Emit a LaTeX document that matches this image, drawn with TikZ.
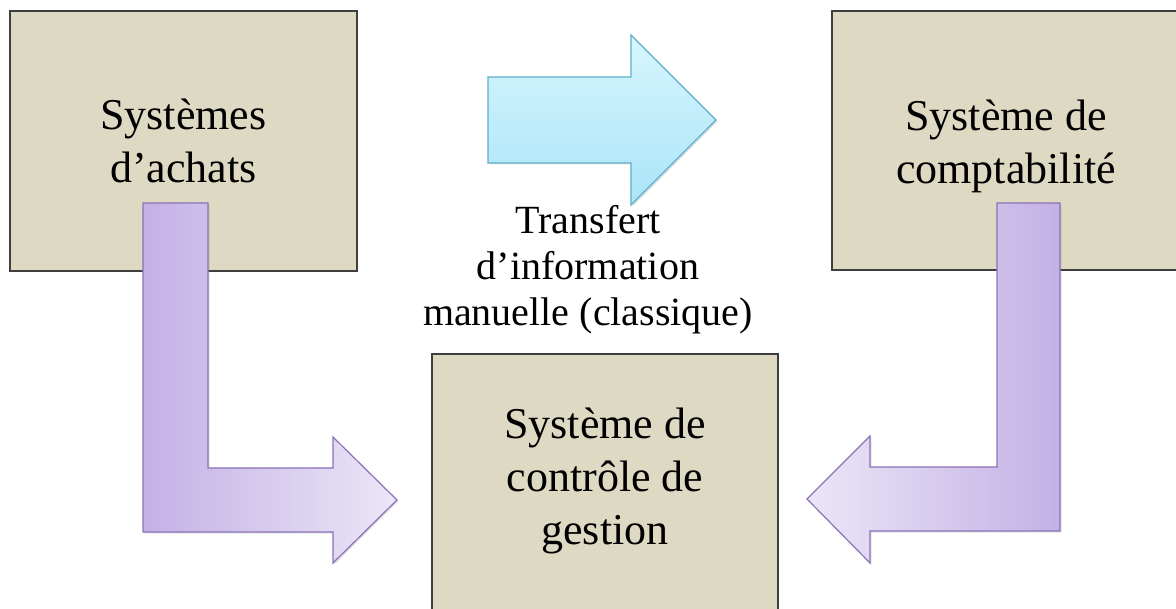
\documentclass[tikz,border=0pt]{standalone}
\usepackage{fontspec}
\setmainfont{Liberation Serif}
\usetikzlibrary{shadows}

\definecolor{panelfill}{HTML}{DDD9C3}
\definecolor{paneledge}{HTML}{3F3F3F}
\definecolor{lilacdark}{HTML}{C3B1E5}
\definecolor{lilaclight}{HTML}{EBE6F7}
\definecolor{lilacedge}{HTML}{8C72B8}
\definecolor{skytop}{HTML}{D8F5FE}
\definecolor{skybottom}{HTML}{A9E5F8}
\definecolor{skyedge}{HTML}{5DAEC9}

\begin{document}
\begin{tikzpicture}[x=1pt,y=-1pt,
  panel/.style={draw=paneledge, line width=1.6pt, fill=panelfill, inner sep=0pt},
  paneltext/.style={align=center, inner sep=0pt, font=\fontsize{44}{53}\selectfont},
  notetext/.style={align=center, inner sep=0pt, font=\fontsize{40}{46}\selectfont},
  softshadow/.style={drop shadow={opacity=0.22, shadow xshift=1.5pt, shadow yshift=-1.5pt}},
  lilac/.style={draw=lilacedge, line width=1.2pt, line join=miter, softshadow},
  sky/.style={draw=skyedge, line width=1.2pt, line join=miter, softshadow,
              top color=skytop, bottom color=skybottom}
]
\useasboundingbox (0,0) rectangle (1176,609);
\fill[white] (0,0) rectangle (1176,609);
\clip (0,0) rectangle (1176,609);

% the three information systems
\node[panel, minimum width=347pt, minimum height=260pt] (achats) at (183.5,141) {};
\node[paneltext] (achatsT) at (183.5,141) {Systèmes\\d’achats};

\node[panel, minimum width=348pt, minimum height=259pt] (compta) at (1006,140.5) {};
\node[paneltext] (comptaT) at (1006,146) {Système de\\comptabilité};

\node[panel, minimum width=346pt, minimum height=306pt] (cdg) at (605,507) {};
\node[paneltext] (cdgT) at (605,481) {Système de\\contrôle de\\gestion};

% manual transfer between purchasing and accounting
\path[sky] (488,77) -- (631,77) -- (631,35) -- (716,120) -- (631,205)
  -- (631,163) -- (488,163) -- cycle;
\node[notetext] (transfert) at (588,270) {Transfert\\d’information\\manuelle (classique)};

% feeds into the management control system
\path[lilac, left color=lilacdark, right color=lilaclight]
  (143,203) -- (208,203) -- (208,468) -- (333,468) -- (333,437) -- (397,500)
  -- (333,563) -- (333,532) -- (143,532) -- cycle;
\path[lilac, left color=lilaclight, right color=lilacdark]
  (997,203) -- (1060,203) -- (1060,531) -- (870,531) -- (870,563) -- (807,499)
  -- (870,436) -- (870,467) -- (997,467) -- cycle;
\end{tikzpicture}
\end{document}
